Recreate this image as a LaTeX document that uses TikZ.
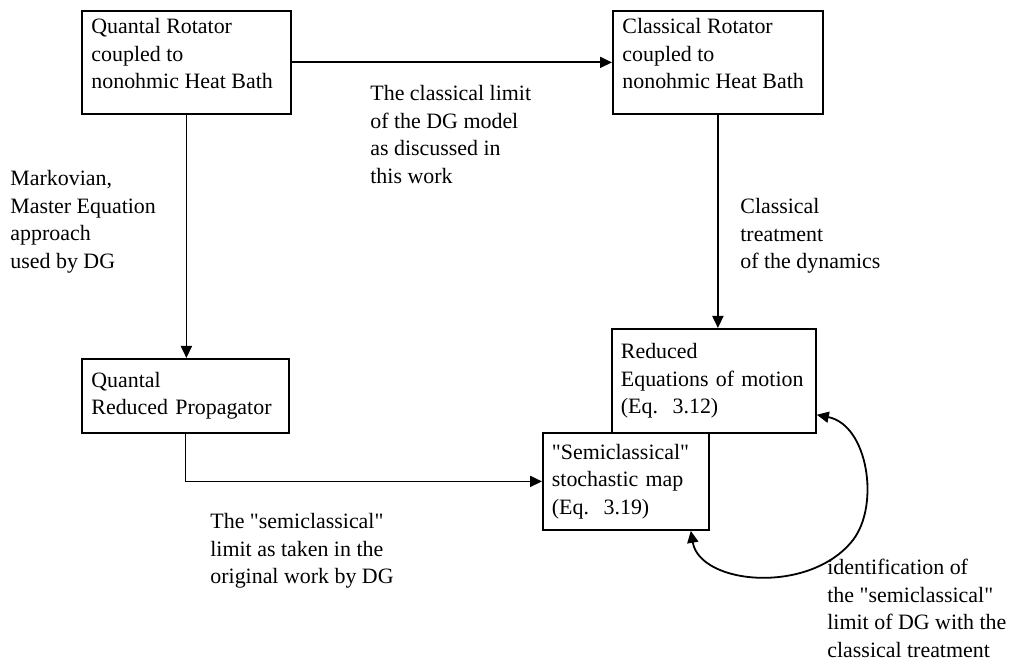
\documentclass[tikz,border=0pt]{standalone}
\usepackage{fontspec}
\setmainfont{Liberation Serif}
\usepackage{tikz}
\usetikzlibrary{arrows.meta}
\usetikzlibrary{positioning}

\begin{document}
\begin{tikzpicture}[x=0.5bp, y=-0.5bp,
  every node/.style={font=\fontsize{11}{13.8}\selectfont},
  box/.style={draw, line width=0.9bp, anchor=north west, align=left, inner xsep=4.5bp, inner ysep=0pt},
  boxtext/.style={anchor=north west, align=left, inner xsep=5bp, inner ysep=4bp},
  note/.style={anchor=north west, align=left, inner sep=0pt},
  link/.style={line width=0.9bp, -{Triangle[length=6bp,width=5.5bp]}},
  twolink/.style={line width=0.9bp, {Triangle[length=6bp,width=5.5bp]}-{Triangle[length=6bp,width=5.5bp]}}]
\useasboundingbox (0,0) rectangle (1019,665);
% the four models
\node[box, minimum width=104.5bp, minimum height=51.5bp,
  label={[boxtext]north west:Quantal Rotator\\coupled to\\nonohmic Heat Bath}] (qrot) at (81,10) {};
\node[box, minimum width=105bp, minimum height=51.5bp,
  label={[boxtext]north west:Classical Rotator\\coupled to\\nonohmic Heat Bath}] (crot) at (612,10) {};
\node[box, minimum width=103.5bp, minimum height=37bp, text width=94bp] (qprop) at (81,358) {Quantal\\Reduced Propagator};
\node[box, minimum width=83bp, minimum height=48.5bp, text width=74bp] (smap) at (542,432) {\textquotedbl Semiclassical\textquotedbl\\stochastic map\\(Eq.\ \ 3.19)};
\node[box, minimum width=102bp, minimum height=52bp, text width=93bp] (redeq) at (611,328) {Reduced\\Equations of motion\\(Eq.\ \ 3.12)};
% texts on the arrows
\node[note] (climit) at (370,85) {The classical limit\\of the DG model\\as discussed in\\this work};
\node[note] (markov) at (10,170) {Markovian,\\Master Equation\\approach\\used by DG};
\node[note] (ctreat) at (740,198) {Classical\\treatment\\of the dynamics};
\node[note] (slimit) at (210,513) {The \textquotedbl semiclassical\textquotedbl\\limit as taken in the\\original work by DG};
\node[note] (ident) at (827,559) {identification of\\the \textquotedbl semiclassical\textquotedbl\\limit of DG with the\\classical treatment};
% arrows
\draw[link] (qrot.east) -- (crot.west);
\draw[link] (qrot.south) -- (qrot.south |- qprop.north);
\draw[link] (crot.south) -- (crot.south |- redeq.north);
\draw[link] (qprop.south) |- (smap.west);
\coordinate (ida) at ([yshift=9.5bp]redeq.south east);
\coordinate (idb) at ([xshift=-9.5bp]smap.south east);
\draw[twolink] (idb) .. controls (700,585) and (810,595) .. (853,540) .. controls (880,505) and (868,425) .. (ida);
\end{tikzpicture}
\end{document}
